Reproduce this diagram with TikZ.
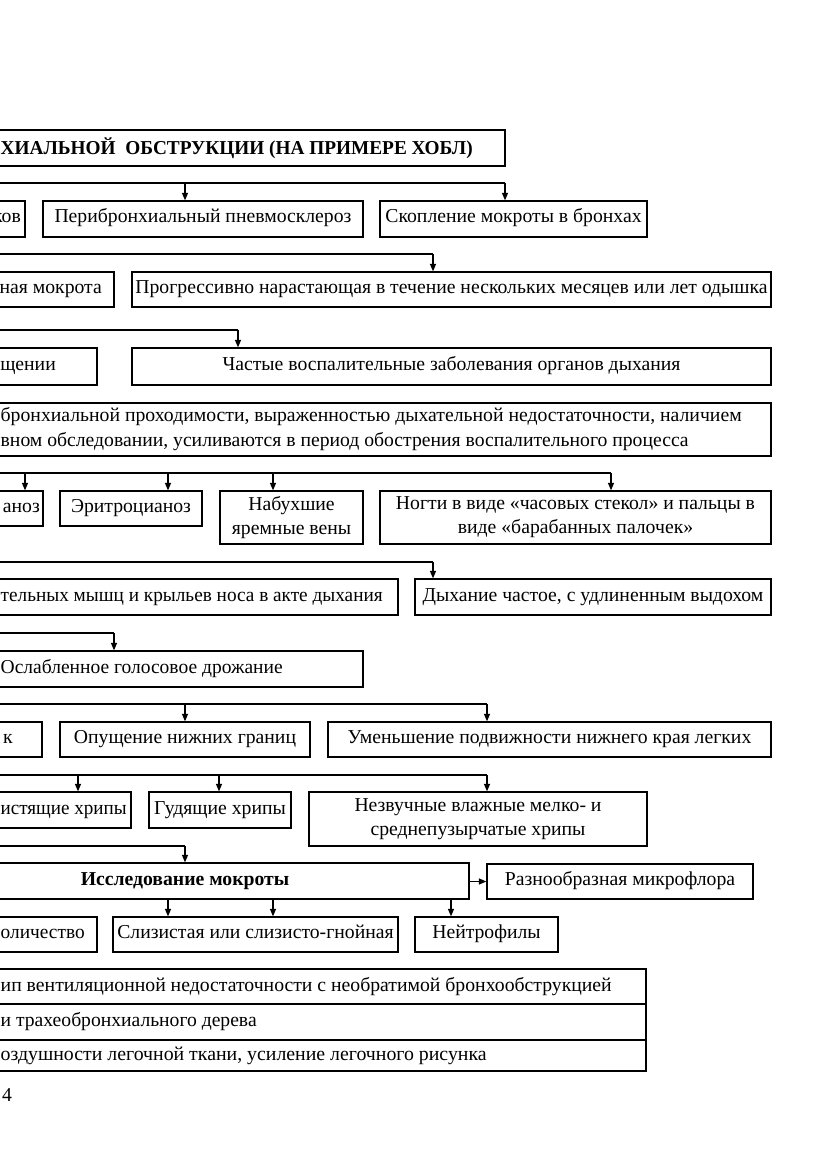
\documentclass[tikz,border=0pt]{standalone}
\usepackage{fontspec}
\usepackage{graphicx}
\setmainfont{Liberation Serif}
\usetikzlibrary{arrows.meta}
\newcommand\fsz{\fontsize{19.7}{24}\selectfont}
\newcommand\fitw[2]{\resizebox{#1pt}{\height}{#2}}
\tikzset{
  boxbase/.style={draw, line width=1.3pt, inner sep=0pt, align=center, font=\fsz},
  box/.style={boxbase, text height=13pt, text depth=5pt},
  box2/.style={boxbase},
  txt/.style={inner sep=0pt, font=\fsz, anchor=base east},
  ltxt/.style={inner sep=0pt, font=\fsz, anchor=base west},
  conn/.style={line width=1.3pt},
  arr/.style={line width=1.3pt, -{Triangle[length=7.5pt,width=6pt]}},
}
\newcommand\bx[6]{\node[box, minimum width={(#4)-(#2)}, minimum height={(#5)-(#3)}] (#1) at ({((#2)+(#4))/2},{((#3)+(#5))/2}) {#6};}
\newcommand\bxx[6]{\node[box2, minimum width={(#4)-(#2)}, minimum height={(#5)-(#3)}] (#1) at ({((#2)+(#4))/2},{((#3)+(#5))/2}) {#6};}
\begin{document}
\begin{tikzpicture}[x=1pt,y=-1pt]
\useasboundingbox (0,0) rectangle (831,1174);
\clip (0,0) rectangle (831,1174);

% title
\bx{title}{-60}{130}{505}{166}{}
\node[ltxt, font=\fsz\bfseries] (titletx) at (0.5,155) {\fitw{472}{ХИАЛЬНОЙ\ \ ОБСТРУКЦИИ (НА ПРИМЕРЕ ХОБЛ)}};

% row 1
\coordinate (r1s) at (-20,183);
\coordinate (r1a) at (185,183);
\coordinate (r1b) at (505,183);
\bx{b1a}{-60}{201}{25}{237}{}
\node[txt] (t1a) at (21,223) {ков};
\bx{b1b}{43}{201}{363}{237}{Перибронхиальный пневмосклероз}
\bx{b1c}{380}{201}{647}{237}{Скопление мокроты в бронхах}
\draw[conn] (r1s) -- (r1b);
\draw[arr] (r1a) -- (r1a |- b1b.north);
\draw[arr] (r1b) -- (r1b |- b1c.north);

% row 2
\coordinate (r2s) at (-20,254);
\coordinate (r2a) at (433,254);
\bx{b2a}{-60}{272}{114}{307}{}
\node[txt] (t2a) at (102,293.5) {ная мокрота};
\bx{b2b}{132}{272}{771}{307}{Прогрессивно нарастающая в течение нескольких месяцев или лет одышка}
\draw[conn] (r2s) -- (r2a);
\draw[arr] (r2a) -- (r2a |- b2b.north);

% row 3
\coordinate (r3s) at (-20,330);
\coordinate (r3a) at (238,330);
\bx{b3a}{-60}{348}{97}{385}{}
\node[txt] (t3a) at (56,370.5) {щении};
\bx{b3b}{132}{348}{771}{385}{Частые воспалительные заболевания органов дыхания}
\draw[conn] (r3s) -- (r3a);
\draw[arr] (r3a) -- (r3a |- b3b.north);

% big box
\bx{b4}{-60}{403}{771}{456}{}
\node[ltxt] (t4l1) at (0.5,421) {\fitw{741}{бронхиальной проходимости, выраженностью дыхательной недостаточности, наличием}};
\node[ltxt] (t4l2) at (0.5,446) {\fitw{688}{вном обследовании, усиливаются в период обострения воспалительного процесса}};

% row 5 (signs)
\coordinate (r5s) at (-20,473);
\coordinate (r5a) at (25,473);
\coordinate (r5b) at (168,473);
\coordinate (r5c) at (273,473);
\coordinate (r5d) at (611,473);
\bx{b5a}{-60}{491}{43}{526}{}
\node[txt] (t5a) at (40,512.5) {аноз};
\bx{b5b}{60}{491}{202}{526}{Эритроцианоз}
\bxx{b5c}{220}{491}{363}{544}{Набухшие\\яремные вены}
\bxx{b5d}{380}{491}{771}{544}{Ногти в виде «часовых стекол» и пальцы в\\виде «барабанных палочек»}
\draw[conn] (r5s) -- (r5d);
\draw[arr] (r5a) -- (r5a |- b5a.north);
\draw[arr] (r5b) -- (r5b |- b5b.north);
\draw[arr] (r5c) -- (r5c |- b5c.north);
\draw[arr] (r5d) -- (r5d |- b5d.north);

% row 6
\coordinate (r6s) at (-20,562);
\coordinate (r6a) at (433,562);
\bx{b6a}{-60}{579}{398}{615}{}
\node[ltxt] (t6a) at (0.5,601) {\fitw{382}{тельных мышц и крыльев носа в акте дыхания}};
\bx{b6b}{415}{579}{771}{615}{Дыхание частое, с удлиненным выдохом}
\draw[conn] (r6s) -- (r6a);
\draw[arr] (r6a) -- (r6a |- b6b.north);

% row 7
\coordinate (r7s) at (-20,633);
\coordinate (r7a) at (114,633);
\bx{b7}{-60}{651}{363}{687}{}
\node[ltxt] (t7) at (0.5,673) {\fitw{282}{Ослабленное голосовое дрожание}};
\draw[conn] (r7s) -- (r7a);
\draw[arr] (r7a) -- (r7a |- b7.north);

% row 8
\coordinate (r8s) at (-20,704);
\coordinate (r8a) at (185,704);
\coordinate (r8b) at (487,704);
\bx{b8a}{-60}{722}{42}{757}{}
\node[txt] (t8a) at (13,743.5) {к};
\bx{b8b}{60}{722}{310}{757}{Опущение нижних границ}
\bx{b8c}{328}{722}{771}{757}{Уменьшение подвижности нижнего края легких}
\draw[conn] (r8s) -- (r8b);
\draw[arr] (r8a) -- (r8a |- b8b.north);
\draw[arr] (r8b) -- (r8b |- b8c.north);

% row 9
\coordinate (r9s) at (-20,775);
\coordinate (r9a) at (78,775);
\coordinate (r9b) at (219,775);
\coordinate (r9c) at (487,775);
\bx{b9a}{-60}{792}{131}{828}{}
\node[ltxt] (t9a) at (0.5,814) {\fitw{126}{истящие хрипы}};
\bx{b9b}{149}{792}{291}{828}{Гудящие хрипы}
\bxx{b9c}{309}{792}{647}{846}{Незвучные влажные мелко- и\\среднепузырчатые хрипы}
\draw[conn] (r9s) -- (r9c);
\draw[arr] (r9a) -- (r9a |- b9a.north);
\draw[arr] (r9b) -- (r9b |- b9b.north);
\draw[arr] (r9c) -- (r9c |- b9c.north);

% row 10: sputum
\coordinate (r10s) at (-20,846);
\coordinate (r10a) at (185,846);
\bx{b10}{-60}{863}{469}{899}{}
\node[txt, font=\fsz\bfseries, anchor=base] (t10) at (185,885.5) {Исследование мокроты};
\bx{b10r}{487}{864}{753}{899}{Разнообразная микрофлора}
\draw[conn] (r10s) -- (r10a);
\draw[arr] (r10a) -- (r10a |- b10.north);
\draw[arr] (b10.east |- b10r.west) -- (b10r.west);

% row 11
\coordinate (r11a) at (168,899);
\coordinate (r11b) at (273,899);
\coordinate (r11c) at (451,899);
\bx{b11a}{-60}{917}{97}{952}{}
\node[ltxt] (t11a) at (0.5,938.5) {\fitw{84}{оличество}};
\bx{b11b}{113}{917}{398}{952}{Слизистая или слизисто-гнойная}
\bx{b11c}{415}{917}{558}{952}{Нейтрофилы}
\draw[arr] (r11a) -- (r11a |- b11b.north);
\draw[arr] (r11b) -- (r11b |- b11b.north);
\draw[arr] (r11c) -- (r11c |- b11c.north);

% table
\bx{tr1}{-60}{969}{646}{1004}{}
\bx{tr2}{-60}{1004}{646}{1040}{}
\bx{tr3}{-60}{1040}{646}{1071}{}
\node[ltxt] (tt1) at (0.5,991) {\fitw{611}{ип вентиляционной недостаточности с необратимой бронхообструкцией}};
\node[ltxt] (tt2) at (0.5,1026.5) {\fitw{256}{и трахеобронхиального дерева}};
\node[ltxt] (tt3) at (0.5,1060.5) {\fitw{486}{оздушности легочной ткани, усиление легочного рисунка}};

% page number
\node[ltxt] (pg) at (2,1101) {4};
\end{tikzpicture}
\end{document}
